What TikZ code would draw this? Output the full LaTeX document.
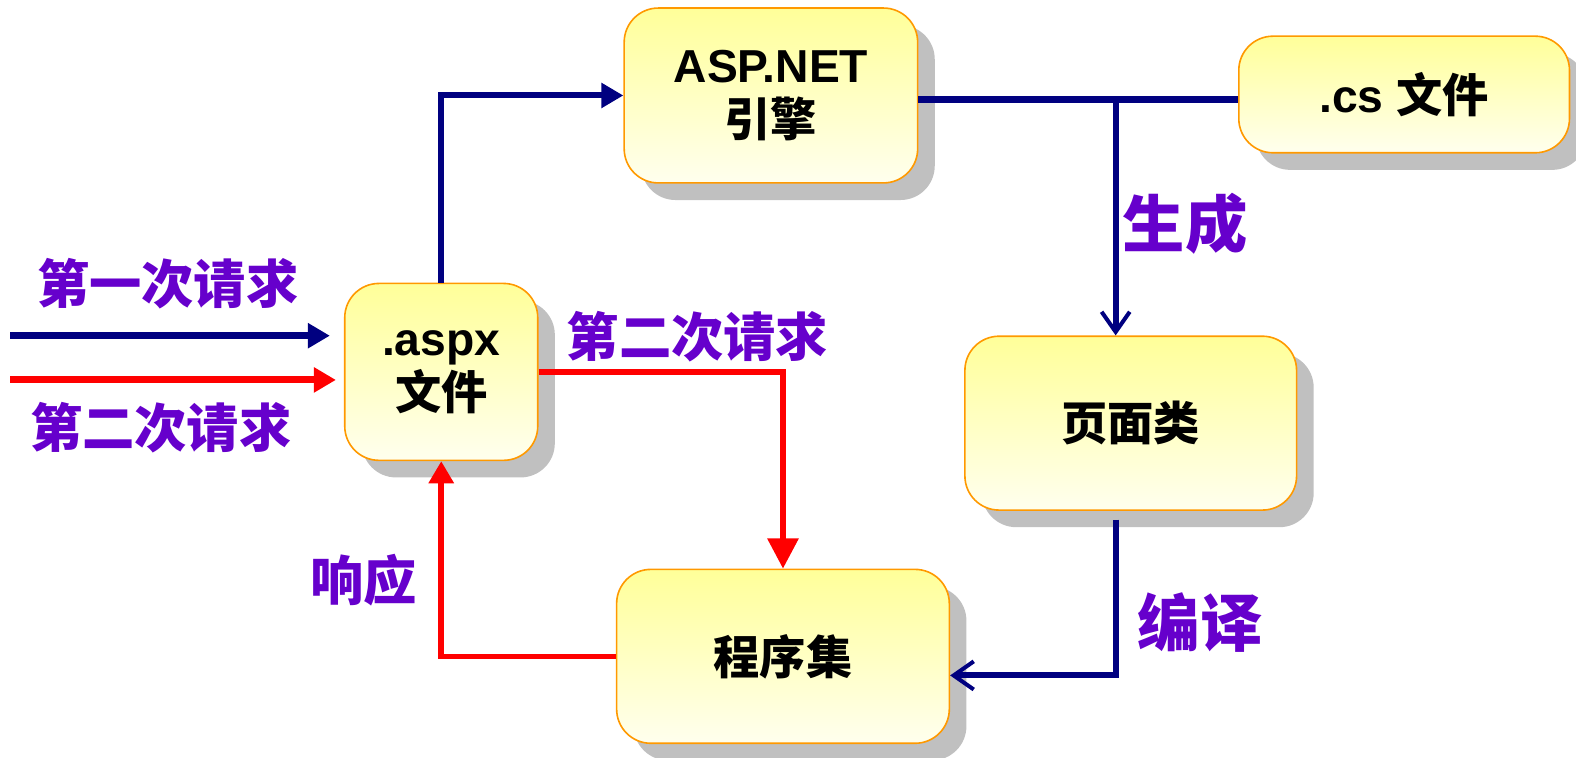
\documentclass[tikz,border=0pt]{standalone}
\usepackage{fontspec}
\setmainfont{Liberation Sans}
\newfontfamily\cjk{Noto Sans CJK SC}
\usetikzlibrary{arrows.meta,shadows}
\definecolor{navyline}{RGB}{0,0,128}
\definecolor{labelpurple}{RGB}{102,0,204}
\definecolor{boxorange}{RGB}{255,153,0}
\definecolor{boxtop}{RGB}{255,255,153}
\definecolor{boxbottom}{RGB}{255,255,238}
\definecolor{shadowgray}{RGB}{192,192,192}

\begin{document}
\begin{tikzpicture}[x=1pt,y=-1pt]
        \tikzstyle{box}=[rectangle, rounded corners=34pt, draw=boxorange, line width=1.6pt, top color=boxtop, bottom color=boxbottom, align=center, font=\fontsize{46}{54}\selectfont\bfseries, drop shadow={shadow xshift=17pt, shadow yshift=-17pt, fill=shadowgray, opacity=1}]
        \tikzstyle{tag}=[text=labelpurple, inner sep=0pt, font=\cjk\bfseries]
        \tikzstyle{navy}=[draw=navyline, line width=6pt]
        \tikzstyle{redline}=[draw=red, line width=5.5pt]
        % boxes
        \node [box, minimum width=292pt, minimum height=174pt] (engine) at (767,95) {ASP.NET\\{\cjk 引擎}};
        \node [box, minimum width=329pt, minimum height=116pt] (cs) at (1397,94) {.cs {\cjk 文件}};
        \node [box, minimum width=192pt, minimum height=176pt] (aspx) at (439,370) {.aspx\\{\cjk 文件}};
        \node [box, minimum width=330pt, minimum height=173pt] (page) at (1125,421) {\cjk 页面类};
        \node [box, minimum width=331pt, minimum height=173pt] (asm) at (779,653) {\cjk 程序集};
        % labels
        \node [tag, font=\cjk\bfseries\fontsize{52}{56}\selectfont] (first) at (167,282) {第一次请求};
        \node [tag, font=\cjk\bfseries\fontsize{52}{56}\selectfont] (second) at (160,425) {第二次请求};
        \node [tag, font=\cjk\bfseries\fontsize{52}{56}\selectfont] (secondb) at (694,335) {第二次请求};
        \node [tag, font=\cjk\bfseries\fontsize{62}{66}\selectfont] (gen) at (1179,223) {生成};
        \node [tag, font=\cjk\bfseries\fontsize{62}{66}\selectfont] (comp) at (1194,619) {编译};
        \node [tag, font=\cjk\bfseries\fontsize{53}{56}\selectfont] (resp) at (362,577) {响应};
        % connectors
        \coordinate (in1) at (10,334);
        \coordinate (in2) at (10,378);
        \coordinate (junction) at (1110,99);
        \coordinate (pagebot) at (1110,517);
        \draw [navy, line width=7.5pt, shorten >=14pt, -{Triangle[length=22pt,width=24pt]}] (in1) -- (aspx.west |- in1);
        \draw [redline, line width=7pt, shorten >=8pt, -{Triangle[length=22pt,width=24pt]}] (in2) -- (aspx.west |- in2);
        \draw [navy, -{Triangle[length=22pt,width=24pt]}] (aspx.north) |- (engine.west);
        \draw [navy] (engine.east |- junction) -- (cs.west |- junction);
        \draw [navy, -{Straight Barb[length=20pt,width=28pt,line width=4pt]}] (junction) -- (junction |- page.north);
        \draw [navy, -{Straight Barb[length=20pt,width=28pt,line width=4pt]}] (pagebot) |- ([yshift=-19pt]asm.east);
        \draw [redline, -{Triangle[length=30pt,width=30pt]}] (aspx.east) -| (asm.north);
        \draw [redline, -{Triangle[length=22pt,width=24pt]}] (asm.west) -| (aspx.south);
        \pgfresetboundingbox
        \useasboundingbox (0,0) rectangle (1568,754);
\end{tikzpicture}
\end{document}
